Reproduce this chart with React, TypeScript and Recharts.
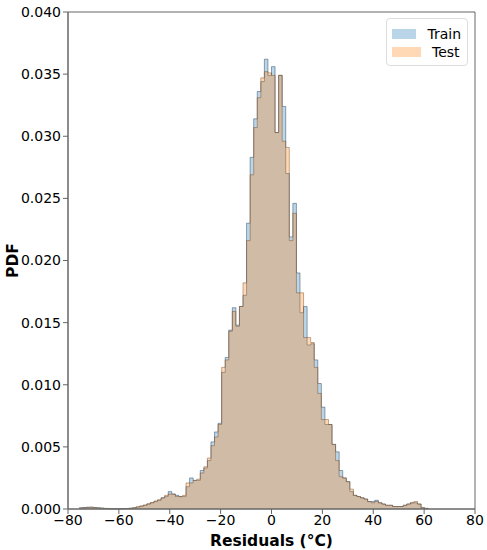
import { AreaChart, Area, XAxis, YAxis, Legend, Label, ReferenceArea } from "recharts";

// histogram bins: left edges start here, all bins equally wide
const BIN_START = -75.6;
const BIN_WIDTH = 1.4;

const trainPdf = [
  0.0001, 0.00012, 0.00015, 0.00015, 0.00012, 0.0001, 0.00008, 0.00005,
  0.00003, 0.00002, 0.00002, 0.00002, 0.00003, 0.00004, 0.00006,
  0.0001, 0.00015, 0.00022, 0.0003, 0.0004, 0.0005, 0.0006, 0.0007, 0.0009, 0.001,
  0.0014, 0.0012, 0.0011, 0.001, 0.001, 0.0018, 0.0025, 0.0023, 0.0023, 0.0031,
  0.0033, 0.0039, 0.0054, 0.0062, 0.0069, 0.011, 0.0122, 0.0144, 0.0162, 0.0148,
  0.0163, 0.0172, 0.023, 0.0283, 0.0314, 0.0336, 0.0344, 0.0362, 0.0349,
  0.0356, 0.0303, 0.0349, 0.0324, 0.027, 0.0219, 0.0246, 0.019, 0.0158, 0.0163,
  0.0132, 0.0133, 0.012, 0.0101, 0.0082, 0.0068, 0.0068, 0.0052, 0.0046, 0.0031,
  0.0025, 0.0022, 0.0014, 0.0011, 0.001, 0.0009, 0.0008, 0.0006, 0.0006, 0.0007,
  0.0005, 0.0004, 0.0003, 0.0003, 0.0002, 0.0002, 0.0002, 0.0003, 0.0004, 0.0005,
  0.0005, 0.0004, 0.0001, 0.00005,
];

const testPdf = [
  0.00008, 0.0001, 0.00012, 0.00014, 0.0001, 0.00008, 0.00006, 0.00004,
  0.00002, 0.00002, 0.00001, 0.00002, 0.00003, 0.00004, 0.00006,
  0.0001, 0.00018, 0.00025, 0.00032, 0.00042, 0.00052, 0.00065, 0.00075, 0.0009, 0.0011,
  0.0012, 0.0012, 0.001, 0.001, 0.0011, 0.0021, 0.0021, 0.0023, 0.0024, 0.0029,
  0.0034, 0.0041, 0.0051, 0.0058, 0.0068, 0.0114, 0.012, 0.0143, 0.0159, 0.0147,
  0.0163, 0.0182, 0.0216, 0.0269, 0.0307, 0.0331, 0.0347, 0.0352, 0.0351,
  0.0349, 0.0303, 0.0349, 0.0296, 0.0291, 0.0216, 0.0238, 0.0174, 0.0174, 0.0138,
  0.0138, 0.0134, 0.0114, 0.0093, 0.0072, 0.0072, 0.0068, 0.0052, 0.0039, 0.0026,
  0.0025, 0.0022, 0.0016, 0.0011, 0.001, 0.0009, 0.0008, 0.0006, 0.0005, 0.0006,
  0.0005, 0.0004, 0.0003, 0.0003, 0.0002, 0.0002, 0.0002, 0.0003, 0.0004, 0.0005,
  0.0006, 0.0004, 0.0001, 0.00005,
];

const xTicks = [-80, -60, -40, -20, 0, 20, 40, 60, 80];
const yTicks = [0, 0.005, 0.01, 0.015, 0.02, 0.025, 0.03, 0.035, 0.04];

const seriesNames = ["Train", "Test"];
const seriesColors = ["#1f77b4", "#ff7f0e"];

// one point per bin edge, stepAfter holds each bin's value to the next edge
const data: any[] = trainPdf.map((v, i) => ({
  x: BIN_START + i * BIN_WIDTH,
  train: v,
  test: testPdf[i],
}));
data.push({ x: BIN_START + trainPdf.length * BIN_WIDTH, train: 0, test: 0 });

const font = "DejaVu Sans, sans-serif";
const axisColor = "#666";

const fmtX = (v: number) => (v < 0 ? "\u2212" + Math.abs(v) : String(v));

function LegendBox() {
  return (
    <div
      style={{
        border: "1px solid #ddd",
        borderRadius: 4,
        background: "#fff",
        padding: "6px 6px 4px 5px",
        fontFamily: font,
        fontSize: 14,
        color: "#000",
      }}
    >
      {seriesNames.map((n, i) => (
        <div key={n} style={{ display: "flex", alignItems: "center", height: 18 }}>
          <span
            style={{
              display: "inline-block",
              width: 27,
              height: 8,
              marginRight: 11,
              background: seriesColors[i],
              opacity: 0.3,
              border: "1px solid " + seriesColors[i],
            }}
          />
          {n}
        </div>
      ))}
    </div>
  );
}

export default function App() {
  return (
    <div style={{ position: "absolute", top: 0, left: 0, background: "#fff" }}>
      <AreaChart
        width={487}
        height={550}
        data={data}
        margin={{ top: 12, right: 12, bottom: 0, left: 0 }}
      >
        <XAxis
          dataKey="x"
          type="number"
          domain={[-80, 80]}
          ticks={xTicks}
          tickFormatter={fmtX}
          allowDataOverflow
          height={41}
          tickSize={5}
          tickMargin={1}
          stroke={axisColor}
          tick={{ fill: "#000", fontSize: 14, fontFamily: font }}
        >
          <Label
            value="Residuals (°C)"
            position="insideBottom"
            offset={4}
            style={{ fontFamily: font, fontSize: 15.5, fontWeight: "bold", fill: "#000" }}
          />
        </XAxis>
        <YAxis
          type="number"
          domain={[0, 0.04]}
          ticks={yTicks}
          tickFormatter={(v: number) => v.toFixed(3)}
          width={68}
          tickSize={5}
          tickMargin={2}
          stroke={axisColor}
          tick={{ fill: "#000", fontSize: 14, fontFamily: font }}
          label={{
            content: (p: any) => {
              const cy = p.viewBox.y + p.viewBox.height / 2;
              return (
                <text
                  x={13}
                  y={cy}
                  transform={`rotate(-90 13 ${cy})`}
                  textAnchor="middle"
                  dominantBaseline="central"
                  style={{ fontFamily: font, fontSize: 15.5, fontWeight: "bold", fill: "#000" }}
                >
                  PDF
                </text>
              );
            },
          }}
        />
        <Legend
          layout="vertical"
          align="center"
          verticalAlign="middle"
          content={() => <LegendBox />}
          wrapperStyle={{ left: 386, top: 18, width: 82 }}
        />
        <Area
          name="Train"
          dataKey="train"
          type="stepAfter"
          fill={seriesColors[0]}
          fillOpacity={0.3}
          stroke="#1a3a57"
          strokeOpacity={0.45}
          strokeWidth={1}
          isAnimationActive={false}
          dot={false}
          activeDot={false}
        />
        <Area
          name="Test"
          dataKey="test"
          type="stepAfter"
          fill={seriesColors[1]}
          fillOpacity={0.3}
          stroke="#6b3a10"
          strokeOpacity={0.4}
          strokeWidth={1}
          isAnimationActive={false}
          dot={false}
          activeDot={false}
        />
        {/* plot frame, like the four spines of the original */}
        <ReferenceArea
          x1={-80}
          x2={80}
          y1={0}
          y2={0.04}
          fill="none"
          stroke={axisColor}
          strokeWidth={1}
        />
      </AreaChart>
    </div>
  );
}
